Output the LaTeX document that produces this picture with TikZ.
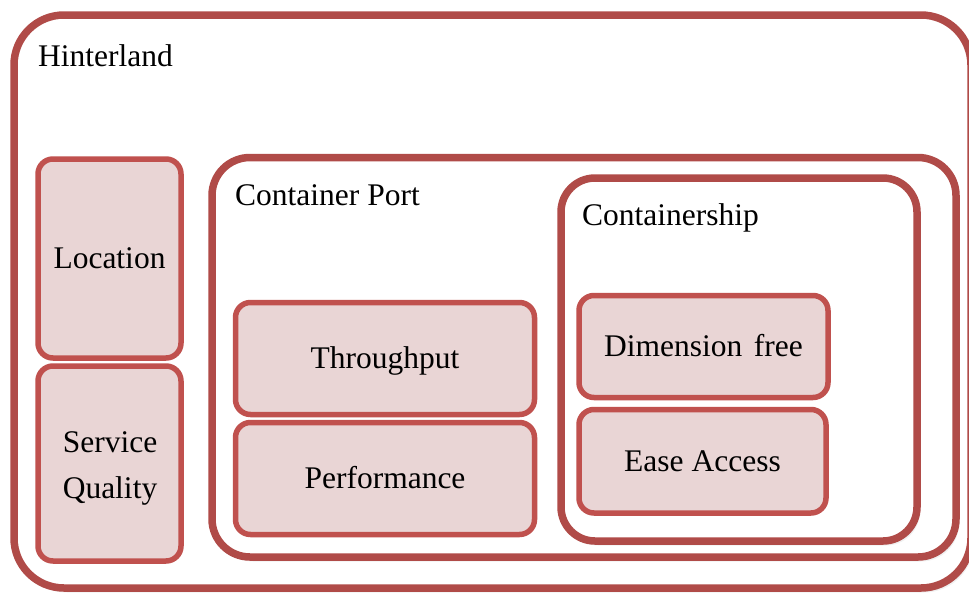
\documentclass[tikz,border=0pt]{standalone}
\usepackage{fontspec}
\setmainfont{Liberation Serif}
\usetikzlibrary{shadows}
\definecolor{framered}{RGB}{176,75,72}
\definecolor{itemred}{RGB}{192,81,78}
\definecolor{itemfill}{RGB}{233,213,213}
\tikzset{
  softshadow/.style={
    drop shadow={shadow xshift=1pt,shadow yshift=-1.5pt,opacity=.16,fill=black},
    drop shadow={shadow xshift=2pt,shadow yshift=-3pt,opacity=.10,fill=black},
    drop shadow={shadow xshift=3pt,shadow yshift=-4.5pt,opacity=.06,fill=black}},
  frame/.style={draw=framered,line width=7.5pt,fill=white,rectangle,
    inner sep=0pt,softshadow},
  item/.style={draw=itemred,line width=5.5pt,fill=itemfill,rectangle,
    rounded corners=15pt,inner sep=0pt,text height=20.5pt,text depth=0pt},
  title/.style={anchor=base west,inner sep=0pt},
  every node/.append style={font=\fontsize{31.5}{37}\selectfont}
}
\begin{document}
\begin{tikzpicture}[x=1pt,y=-1pt]
\path[use as bounding box] (0,0) rectangle (969,592);
\begin{scope}[overlay]
\clip (0,0) rectangle (969,592);

% outer frame
\node[frame,rounded corners=50pt,minimum width=957pt,minimum height=573pt]
  (hinter) at (492.5,301.5) {};
\node[title] (hintertitle) at (38,66) {Hinterland};

% hinterland items
\node[item,minimum width=143pt,minimum height=199pt] (loc) at (109.5,258.5) {Location};
\node[item,minimum width=143pt,minimum height=195pt] (sq) at (109.5,463.5) {};
\node[anchor=base,inner sep=0pt] (sqa) at (110,452) {Service};
\node[anchor=base,inner sep=0pt] (sqb) at (110,498) {Quality};

% container port frame
\node[frame,rounded corners=38pt,minimum width=744pt,minimum height=399.5pt]
  (port) at (584,357.25) {};
\node[title] (porttitle) at (235,205) {Container Port};
\node[item,minimum width=299pt,minimum height=112pt] (thr) at (385,358.5) {Throughput};
\node[item,minimum width=299pt,minimum height=112pt] (perf) at (385,478.5) {Performance};

% containership frame
\node[frame,rounded corners=34pt,minimum width=356pt,minimum height=363pt]
  (ship) at (739,359.5) {};
\node[title] (shiptitle) at (582,225) {Containership};
\node[item,minimum width=249pt,minimum height=102pt] (dim) at (703.5,346.5) {Dimension\hspace{0.12em} free};
\node[item,minimum width=247pt,minimum height=103.5pt] (ease) at (702.5,461.25) {Ease Access};
\end{scope}
\end{tikzpicture}
\end{document}
